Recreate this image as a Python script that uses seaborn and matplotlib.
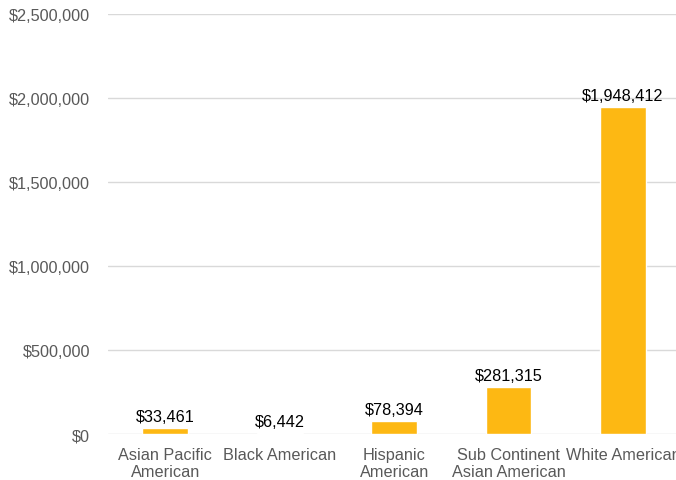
import matplotlib
matplotlib.use('Agg')
import matplotlib.pyplot as plt
import seaborn as sns
import pandas as pd

# Data
groups = ['Asian Pacific American', 'Black American', 'Hispanic American',
          'Sub Continent Asian American', 'White American']
tick_labels = ['Asian Pacific\nAmerican', 'Black American', 'Hispanic\nAmerican',
               'Sub Continent\nAsian American', 'White American']
amounts = [33461, 6442, 78394, 281315, 1948412]

df = pd.DataFrame({'group': groups, 'amount': amounts})

sns.set_style('white')
plt.rcParams['font.family'] = ['Liberation Sans', 'DejaVu Sans']

fig = plt.figure(figsize=(6.76, 4.81), dpi=100)
ax = fig.add_axes([0.16, 0.0956, 0.846, 0.873])

sns.barplot(data=df, x='group', y='amount', color='#FDB813', width=0.4,
            saturation=1, ax=ax, zorder=3)

ax.set_ylim(0, 2500000)
ax.set_xlim(-0.5, 4.5)
ax.set_yticks(range(0, 2500001, 500000))
ax.set_yticklabels([f'${v:,.0f}' for v in range(0, 2500001, 500000)])
ax.set_xticks(range(len(groups)))
ax.set_xticklabels(tick_labels)
ax.grid(axis='y', color='#d9d9d9', linewidth=1, zorder=0)
ax.set_xlabel('')
ax.set_ylabel('')
for s in ax.spines.values():
    s.set_visible(False)
ax.tick_params(axis='both', length=0, labelsize=11.7, colors='#595959')
ax.tick_params(axis='y', pad=13)
ax.tick_params(axis='x', pad=9)

for i, v in enumerate(amounts):
    ax.annotate(f'${v:,.0f}', (i, v), xytext=(0, 3), textcoords='offset points',
                ha='center', va='bottom', fontsize=11.7, color='black', zorder=4)

fig.savefig('out.png', dpi=100)
